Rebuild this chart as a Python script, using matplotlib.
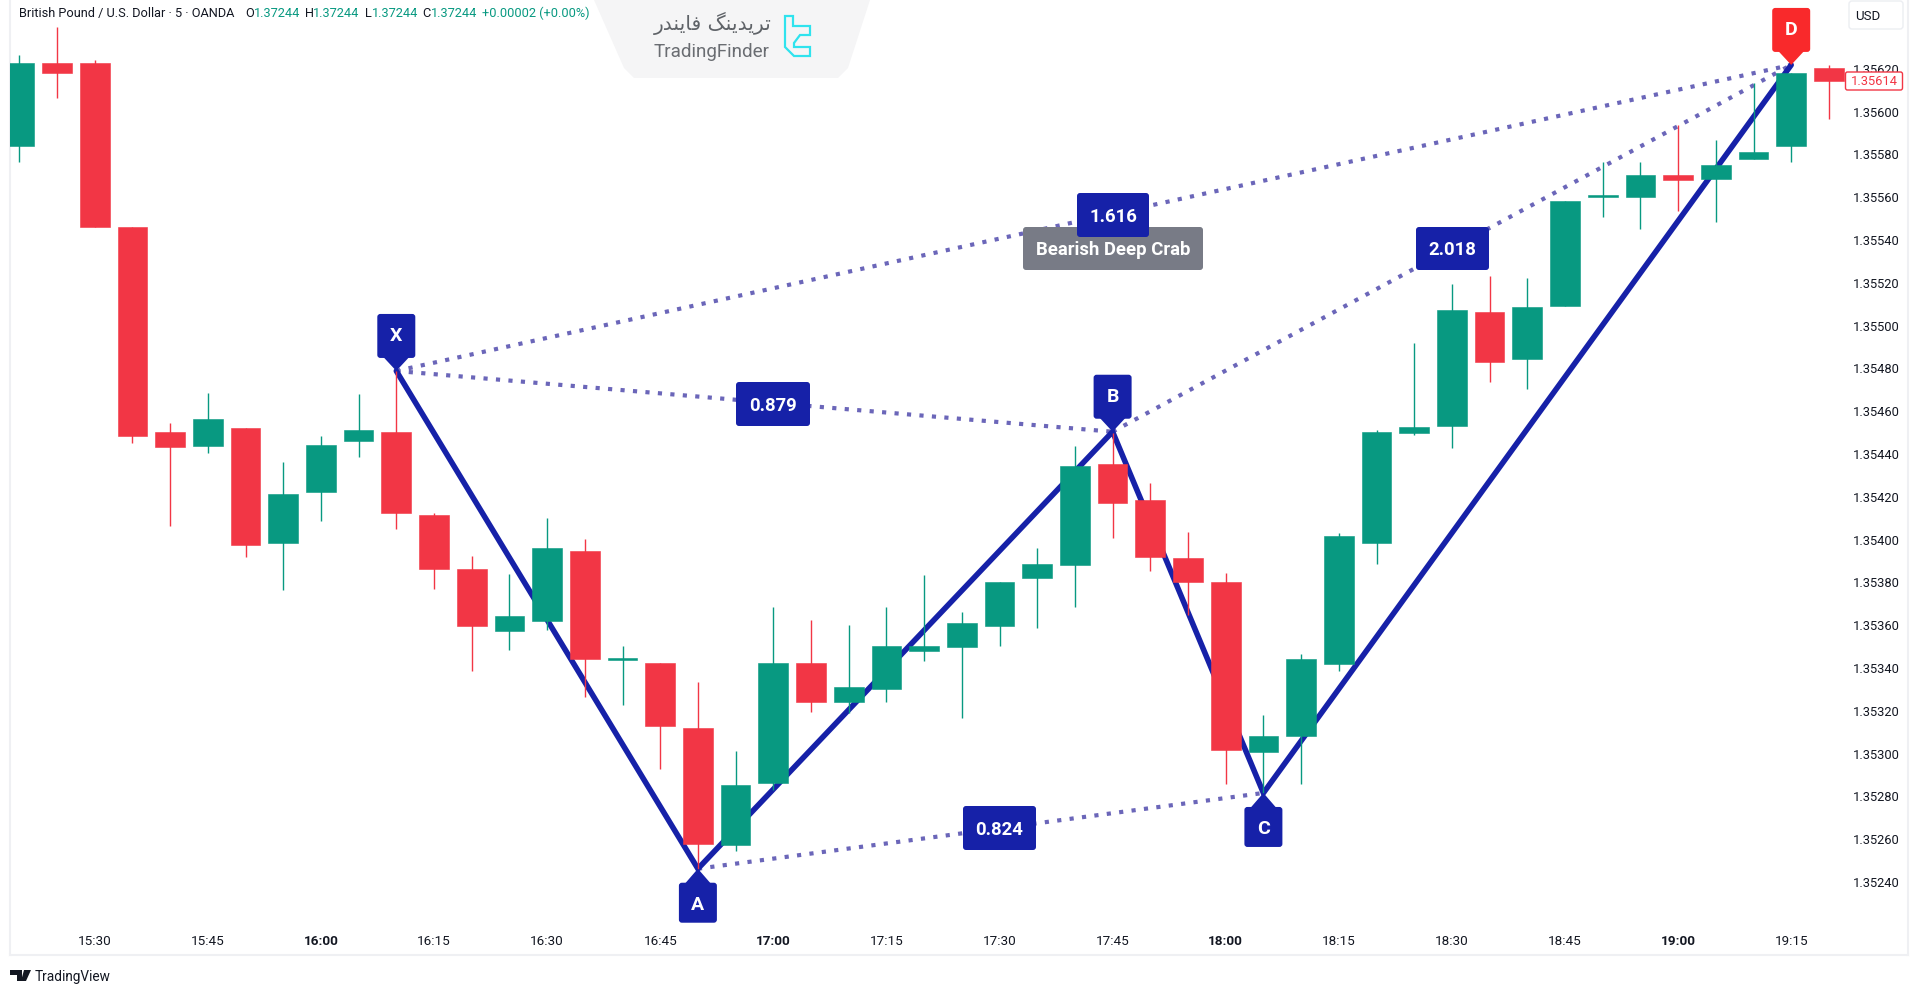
import matplotlib
matplotlib.use("Agg")
import matplotlib.pyplot as plt
import numpy as np
from matplotlib.patches import FancyBboxPatch, Polygon
from matplotlib.transforms import ScaledTranslation

W, H = 1919, 996
plt.rcParams["font.family"] = ["Roboto", "DejaVu Sans"]

GREEN = "#089981"
RED = "#f23645"
BLUE = "#1621a8"
DOT = "#6b66b9"
INK = "#131722"

opens = [1.355835, 1.356220, 1.356220, 1.355456, 1.354495, 1.354433, 1.354517, 1.353976, 1.354215, 1.354456,
         1.354498, 1.354108, 1.353857, 1.353565, 1.353614, 1.353939, 1.353433, 1.353416, 1.353114, 1.352569,
         1.352857, 1.353416, 1.353234, 1.353294, 1.353472, 1.353493, 1.353592, 1.353816, 1.353877, 1.354349,
         1.354179, 1.353907, 1.353798, 1.353003, 1.353074, 1.353413, 1.353976, 1.354492, 1.354527, 1.355057,
         1.354836, 1.355087, 1.355595, 1.355596, 1.355696, 1.355678, 1.355774, 1.355835, 1.356198]
highs = [1.356258, 1.356388, 1.356235, 1.355456, 1.354537, 1.354678, 1.354517, 1.354358, 1.354479, 1.354675,
         1.354782, 1.354120, 1.353918, 1.353835, 1.354097, 1.353999, 1.353496, 1.353416, 1.353327, 1.353006,
         1.353678, 1.353618, 1.353595, 1.353678, 1.353830, 1.353654, 1.353797, 1.353956, 1.354431, 1.354491,
         1.354257, 1.354028, 1.353837, 1.353176, 1.353459, 1.354026, 1.354507, 1.354914, 1.355188, 1.355228,
         1.355216, 1.355576, 1.355757, 1.355757, 1.355931, 1.355860, 1.356126, 1.356176, 1.356210]
lows = [1.355760, 1.356059, 1.355453, 1.354447, 1.354057, 1.354400, 1.353913, 1.353758, 1.354081, 1.354379,
        1.354042, 1.353763, 1.353382, 1.353479, 1.353572, 1.353260, 1.353221, 1.352922, 1.352456, 1.352541,
        1.352825, 1.353190, 1.353184, 1.353236, 1.353428, 1.353162, 1.353498, 1.353582, 1.353679, 1.354000,
        1.353849, 1.353642, 1.352851, 1.352810, 1.352851, 1.353378, 1.353881, 1.354482, 1.354421, 1.354732,
        1.354700, 1.355087, 1.355503, 1.355447, 1.355529, 1.355479, 1.355774, 1.355758, 1.355959]
closes = [1.356220, 1.356173, 1.355453, 1.354478, 1.354428, 1.354556, 1.353970, 1.354206, 1.354436, 1.354507,
          1.354118, 1.353855, 1.353588, 1.353639, 1.353956, 1.353435, 1.353437, 1.353124, 1.352573, 1.352848,
          1.353416, 1.353234, 1.353306, 1.353497, 1.353497, 1.353606, 1.353797, 1.353878, 1.354338, 1.354165,
          1.353914, 1.353794, 1.353013, 1.353076, 1.353437, 1.354010, 1.354496, 1.354518, 1.355068, 1.354825,
          1.355079, 1.355576, 1.355600, 1.355696, 1.355676, 1.355746, 1.355805, 1.356176, 1.356136]

price_ticks = [1.35240, 1.35260, 1.35280, 1.35300, 1.35320, 1.35340, 1.35360, 1.35380, 1.35400, 1.35420,
               1.35440, 1.35460, 1.35480, 1.35500, 1.35520, 1.35540, 1.35560, 1.35580, 1.35600, 1.35620]
time_ticks = [2, 5, 8, 11, 14, 17, 20, 23, 26, 29, 32, 35, 38, 41, 44, 47]
time_labels = ["15:30", "15:45", "16:00", "16:15", "16:30", "16:45", "17:00", "17:15", "17:30", "17:45",
               "18:00", "18:15", "18:30", "18:45", "19:00", "19:15"]
bold_times = ["16:00", "17:00", "18:00", "19:00"]

point_names = ["X", "A", "B", "C", "D"]
point_idx = [10, 18, 29, 33, 47]
point_price = [1.354782, 1.352456, 1.354498, 1.352810, 1.356212]
ratio_text = ["0.879", "0.824", "1.616", "2.018"]
pattern_name = "Bearish Deep Crab"
last_price = 1.35614

# price <-> pixel calibration
PX_PER_PRICE = 42.8 / 0.0002
BAR_PX = 37.7
X0_PX = 19.3
L, R, B_PX = 10, 1908, 955
fig = plt.figure(figsize=(W / 100, H / 100), dpi=100, facecolor="white")
ax = fig.add_axes([L / W, 1 - B_PX / H, (R - L) / W, B_PX / H])
ax.set_xlim((L - X0_PX) / BAR_PX, (R - X0_PX) / BAR_PX)
ax.set_ylim(1.3562 - (B_PX - 67.5) / PX_PER_PRICE, 1.3562 + 67.5 / PX_PER_PRICE)
ax.ticklabel_format(useOffset=False)

ax.spines["top"].set_visible(False)
for s in ("left", "right", "bottom"):
    ax.spines[s].set_color("#eff0f3")
    ax.spines[s].set_linewidth(1.5)

# pattern lines (under the candles)
ax.plot(point_idx, point_price, color=BLUE, lw=4.0, solid_capstyle="round", solid_joinstyle="miter", zorder=2)
for a, b in [(0, 2), (0, 4), (2, 4), (1, 3)]:
    ax.plot([point_idx[a], point_idx[b]], [point_price[a], point_price[b]], color=DOT, lw=3.0,
            linestyle=(0, (1.0, 2.0)), dash_capstyle="butt", zorder=1.5)

# candles
idx = np.arange(len(opens))
o, h, l, c = map(np.array, (opens, highs, lows, closes))
colors = [GREEN if cc >= oo else RED for oo, cc in zip(o, c)]
ax.vlines(idx, l, h, colors=colors, linewidth=1.0, zorder=3)
bottoms = np.minimum(o, c)
heights = np.maximum(np.abs(c - o), 2 / PX_PER_PRICE)
ax.bar(idx, heights, bottom=bottoms, width=0.79, color=colors, edgecolor=colors, linewidth=0.4, zorder=4)

# axes ticks drawn inside the plot, like the TradingView panes
ax.yaxis.tick_right()
ax.set_yticks(price_ticks)
ax.set_yticklabels([f"{p:.5f}" for p in price_ticks])
ax.tick_params(axis="y", length=0, pad=-40, labelsize=9.3, labelcolor=INK)
down = ScaledTranslation(0, -0.9 / 72, fig.dpi_scale_trans)
for lab in ax.get_yticklabels():
    lab.set_transform(lab.get_transform() + down)
ax.set_xticks(time_ticks)
ax.set_xticklabels(time_labels)
ax.tick_params(axis="x", length=0, pad=-14.5, labelsize=9.7, labelcolor=INK)
for lab in ax.get_xticklabels():
    if lab.get_text() in bold_times:
        lab.set_fontweight("semibold")

# overlay in pixel coordinates for the drawing tools, labels and watermarks
ov = fig.add_axes([0, 0, 1, 1], zorder=10)
ov.set_xlim(0, W)
ov.set_ylim(H, 0)
ov.axis("off")
ov.patch.set_alpha(0)


def px(i, p):
    x, y = ax.transData.transform((i, p))
    return x, H - y


def rbox(x0, y0, x1, y1, color, r=3, z=5):
    ov.add_patch(FancyBboxPatch((x0 + r, y0 + r), x1 - x0 - 2 * r, y1 - y0 - 2 * r,
                                boxstyle=f"round,pad={r},rounding_size={r}", fc=color, ec="none", zorder=z))


def tag(x0, y0, x1, y1, text, color=BLUE, fs=13.3, z=5):
    rbox(x0, y0, x1, y1, color, z=z)
    ov.text((x0 + x1) / 2, (y0 + y1) / 2 + 1.5, text, color="white", fontsize=fs, fontweight="semibold",
            ha="center", va="center", zorder=z + 0.1)


for name, i, p in zip(point_names, point_idx, point_price):
    x, y = px(i, p)
    col = "#f9292b" if name == "D" else BLUE
    if name in ("A", "C"):
        rbox(x - 19, y + 14, x + 19, y + 54, col)
        ov.add_patch(Polygon([(x - 13, y + 15), (x, y), (x + 13, y + 15)], fc=col, ec="none", zorder=5))
        ov.text(x, y + 36.5, name, color="white", fontsize=14, fontweight="semibold", ha="center", va="center", zorder=6)
    else:
        rbox(x - 19, y - 57, x + 19, y - 13, col)
        ov.add_patch(Polygon([(x - 13, y - 14), (x, y), (x + 13, y - 14)], fc=col, ec="none", zorder=5))
        ov.text(x, y - 34.5, name, color="white", fontsize=14, fontweight="semibold", ha="center", va="center", zorder=6)

tag(736, 382, 810, 426, ratio_text[0])
tag(963, 806, 1036, 850, ratio_text[1])
tag(1023, 227, 1203, 270, pattern_name, color="#787b86", z=5)
tag(1077, 193, 1149, 237, ratio_text[2], z=7)
tag(1416, 227, 1489, 270, ratio_text[3])

# price scale bits
ov.add_patch(FancyBboxPatch((1849, 1), 54, 28, boxstyle="round,pad=0,rounding_size=3", fc="white", ec="#eceef2", lw=1, zorder=5))
ov.text(1868, 16, "USD", color=INK, fontsize=9.5, ha="center", va="center", zorder=6)
ov.add_patch(FancyBboxPatch((1845.5, 72), 57, 18, boxstyle="round,pad=0,rounding_size=2", fc="white", ec=RED, lw=1, zorder=5))
ov.text(1874, 81, f"{last_price:.5f}", color=RED, fontsize=9.3, ha="center", va="center", zorder=6)

# header line
hy = 13
HFS = 9.2
ov.text(19, hy, "British Pound / U.S. Dollar · 5 · OANDA", color=INK, fontsize=HFS, va="center")
for lx, vx, ltr in [(245, 254, "O"), (305, 313, "H"), (364.5, 372, "L"), (422.5, 431, "C")]:
    ov.text(lx, hy, ltr, color=INK, fontsize=HFS, va="center")
    ov.text(vx, hy, "1.37244", color=GREEN, fontsize=HFS, va="center")
ov.text(482, hy, "+0.00002 (+0.00%)", color=GREEN, fontsize=HFS, va="center")

# TradingFinder watermark
ov.add_patch(Polygon([(594, 0), (870, 0), (848, 68), (838, 78), (634, 78), (624, 68)], fc="#f5f5f6", ec="none", zorder=0.5))
ov.text(713, 23, "\uFEAD\uFEAA\uFEE8\uFBFE\uFE8E\uFED3 \uFB93\uFEE8\uFBFE\uFEAA\uFBFE\uFEAE\uFE97", color="#5f6368",
        fontsize=14.5, ha="center", va="center", family=["DejaVu Sans"], zorder=1)
ov.text(712, 51.5, "TradingFinder", color="#6a6d72", fontsize=13.6, ha="center", va="center", zorder=1)
ov.add_patch(Polygon([(785, 16), (793, 16), (793, 26), (810, 26), (810, 35), (800, 35), (794, 43), (794, 47),
                      (810, 47), (810, 56), (794, 56), (785, 47)], closed=True, fc="none", ec="#2fe3ee", lw=1.6, zorder=1))

# TradingView footer
ov.add_patch(Polygon([(10, 970), (22, 970), (22, 981), (17, 981), (17, 975), (10, 975)], fc="#131722", ec="none"))
ov.add_patch(Polygon([(24, 970), (31, 970), (26, 981), (21, 981)], fc="#131722", ec="none"))
ov.text(35, 977, "TradingView", color=INK, fontsize=9.8, va="center")

fig.savefig("out.png", dpi=100, facecolor="white")
